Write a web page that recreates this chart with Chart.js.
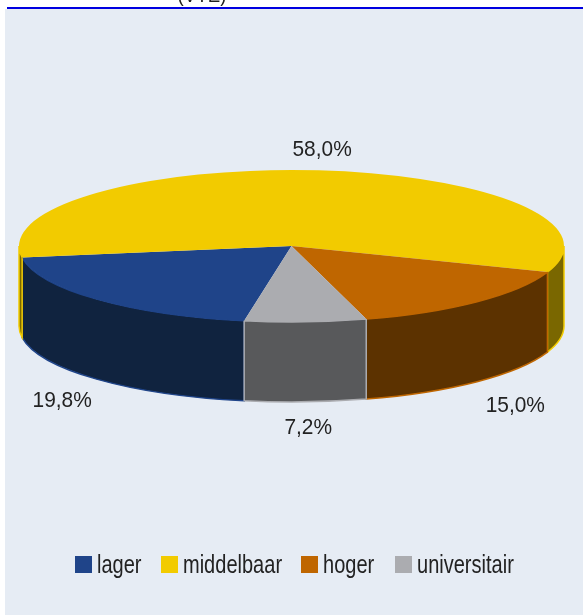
<!DOCTYPE html>
<html>
<head>
<meta charset="utf-8">
<script src="https://cdn.jsdelivr.net/npm/chart.js@4"></script>
<style>
html,body{margin:0;padding:0;background:#fff;width:583px;height:615px;overflow:hidden}
#panel{position:absolute;left:5px;top:9px;width:578px;height:606px;background:#E6ECF4}
#rule{position:absolute;left:7px;top:7px;width:576px;height:2px;background:#0000E0;z-index:3}
#head{position:absolute;left:102px;width:200px;text-align:center;top:-17px;font:21px "Liberation Sans",Arial,sans-serif;color:#222;z-index:2;transform:scaleX(.89)}
#wrap{position:absolute;left:0;top:0;width:583px;height:615px;z-index:1}
#legend{position:absolute;left:75px;top:548px;display:flex;z-index:2;font:26px "Liberation Sans",Arial,sans-serif;color:#222;line-height:32px;white-space:nowrap}
#legend .it{display:flex;align-items:center}
#legend .sw{width:17px;height:17px;margin-right:5px;display:inline-block;flex:none}
#legend .tx{display:inline-block;transform-origin:left center}
</style>
</head>
<body>
<div id="panel"></div>
<div id="head">(VTE)</div>
<div id="rule"></div>
<div id="wrap"><canvas id="c" width="583" height="615"></canvas></div>
<div id="legend"></div>
<script>
const categories = ["lager", "middelbaar", "hoger", "universitair"];
const shares = [19.8, 58.0, 15.0, 7.2];
const shareLabels = ["19,8%", "58,0%", "15,0%", "7,2%"];
const topColors = ["#1F4489", "#F2CB00", "#BF6600", "#ABACB0"];
const wallColors = ["#10233F", "#7A6700", "#5C3200", "#58595B"];

const view = { cy: 246, ry: 76, depth: 80 };
const labelNudge = [[2.5, 2], [-1.5, 2], [3, 3], [0, -3]];
const legendGaps = [19, 19, 21, 0];

function flatten(ctx, arc) {
  ctx.translate(arc.x, view.cy);
  ctx.scale(1, view.ry / arc.outerRadius);
  ctx.translate(-arc.x, -arc.y);
}
const pie3d = {
  id: "pie3d",
  beforeDatasetsDraw(chart) {
    const ctx = chart.ctx, arcs = chart.getDatasetMeta(0).data;
    ctx.save();
    arcs.forEach((a, i) => {
      [[0, Math.PI], [2 * Math.PI, 3 * Math.PI]].forEach(([lo, hi]) => {
        const s = Math.max(a.startAngle, lo), e = Math.min(a.endAngle, hi);
        if (e <= s) return;
        ctx.beginPath();
        ctx.ellipse(a.x, view.cy, a.outerRadius, view.ry, 0, s, e);
        ctx.ellipse(a.x, view.cy + view.depth, a.outerRadius, view.ry, 0, e, s, true);
        ctx.closePath();
        ctx.fillStyle = wallColors[i];
        ctx.strokeStyle = topColors[i];
        ctx.lineWidth = 1.5;
        ctx.fill();
        ctx.stroke();
      });
    });
    ctx.restore();
    ctx.save();
    flatten(ctx, arcs[0]);
  },
  afterDatasetsDraw(chart) {
    const ctx = chart.ctx, arcs = chart.getDatasetMeta(0).data;
    ctx.restore();
    arcs.forEach((a, i) => {
      const m = (a.startAngle + a.endAngle) / 2;
      const lower = Math.sin(m) > 0;
      const x = a.x + Math.cos(m) * a.outerRadius * 1.19;
      const y = view.cy + Math.sin(m) * (lower ? 105 : 99) + (lower ? view.depth : 0);
      ctx.save();
      ctx.font = '22px "Liberation Sans", Arial, sans-serif';
      ctx.fillStyle = "#222";
      ctx.textAlign = "center";
      ctx.textBaseline = "middle";
      ctx.translate(x + labelNudge[i][0], y + labelNudge[i][1]);
      ctx.scale(0.95, 1);
      ctx.fillText(shareLabels[i], 0, 0);
      ctx.restore();
    });
  }
};

new Chart(document.getElementById("c"), {
  type: "pie",
  data: {
    labels: categories,
    datasets: [{ data: shares, backgroundColor: topColors, borderWidth: 0 }]
  },
  options: {
    responsive: false,
    animation: false,
    rotation: 190,
    layout: { padding: { left: 19, right: 19, top: 0, bottom: 0 } },
    plugins: { legend: { display: false }, tooltip: { enabled: false } }
  },
  plugins: [pie3d]
});

const legendEl = document.getElementById("legend");
const squeeze = 0.77;
categories.forEach((name, i) => {
  const it = document.createElement("span");
  it.className = "it";
  it.style.marginRight = legendGaps[i] + "px";
  const sw = document.createElement("span");
  sw.className = "sw";
  sw.style.background = topColors[i];
  const tx = document.createElement("span");
  tx.className = "tx";
  tx.textContent = name;
  it.appendChild(sw);
  it.appendChild(tx);
  legendEl.appendChild(it);
  const w = tx.getBoundingClientRect().width;
  tx.style.transform = "scaleX(" + squeeze + ")";
  tx.style.marginRight = (-(w * (1 - squeeze))) + "px";
});
</script>
</body>
</html>
